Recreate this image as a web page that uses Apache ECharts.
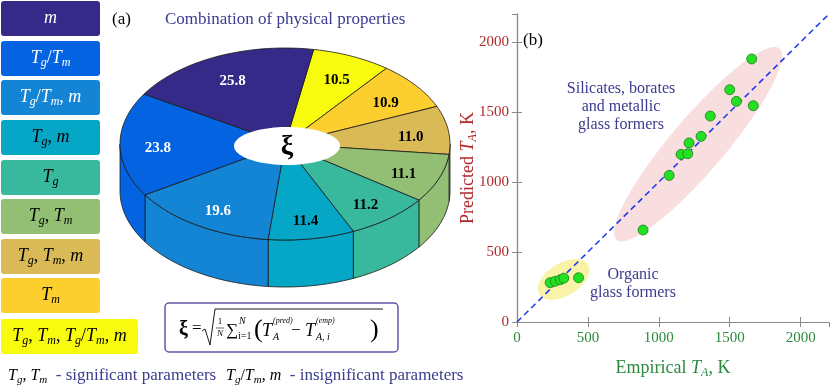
<!DOCTYPE html>
<html><head><meta charset="utf-8">
<script src="https://cdn.jsdelivr.net/npm/echarts@6/dist/echarts.min.js"></script>
<style>html,body{margin:0;padding:0;background:#fff}#c{width:830px;height:387px}</style>
</head><body><div id="c"></div>
<script>
// ---------- Panel (a): pie data (clockwise from top) ----------
const pieCats   = ['Tg,Tm,Tg/Tm,m','Tm','Tg,Tm,m','Tg,Tm','Tg','Tg,m','Tg/Tm,m','Tg/Tm','m'];
const pieValues = [10.5, 10.9, 11.0, 11.1, 11.2, 11.4, 19.6, 23.8, 25.8];
const pieColors = ['#f9fb0e','#fcce2e','#d9ba56','#92bf73','#38b99e','#06a7c6','#1485d4','#0363e1','#352a87'];
const pieLabelColors = ['#000','#000','#000','#000','#000','#000','#fff','#fff','#fff'];
// legend order, top to bottom
const legendCats = ['m','Tg/Tm','Tg/Tm,m','Tg,m','Tg','Tg,Tm','Tg,Tm,m','Tm','Tg,Tm,Tg/Tm,m'];

// ---------- Panel (b): scatter data ----------
const empiricalTA = [1655, 1500, 1547, 1666, 1363, 1298, 1213, 1157, 1204, 1073, 889, 234, 270, 305, 330, 434];
const predictedTA = [1879, 1659, 1576, 1545, 1471, 1326, 1279, 1197, 1202, 1047, 657, 281, 291, 302, 313, 316];
const diagonal = [0, 2200];
// ellipses: [centerX, centerY, semiMajor, semiMinor, angleDeg] in data units
const ellipses = [[1277, 1270, 893, 191, 50], [328, 304, 203, 115, 32]];
const ellipseColors = ['rgba(244,200,200,0.6)', 'rgba(244,236,120,0.65)'];

const SERIF = 'Liberation Serif';
const NAVY = '#3b3b8f';
const P = {cx: 285, cy: 144, rx: 165, ry: 96, h: 47, start: 10, hrx: 53, hry: 19, lr: 0.77};

function catRich(cat) {
  return cat.split(',').map(part => part.split('/').map(tok =>
    tok === 'm' ? '{i|m}' : '{i|T}{s|' + tok[1] + '}').join('{r|/}')).join('{r|, }');
}
function richStyles(size, color, tsize) {
  return {
    i: {fontFamily: SERIF, fontStyle: 'italic', fontSize: size, fill: color},
    s: {fontFamily: SERIF, fontStyle: 'italic', fontSize: Math.round(size * 0.68), fill: color, padding: [Math.round(size*0.5), 0, 0, 0]},
    r: {fontFamily: SERIF, fontSize: size, fill: color},
    t: {fontFamily: SERIF, fontSize: tsize || size, fill: NAVY}
  };
}

function ept(theta, dy) {
  const t = theta * Math.PI / 180;
  return [P.cx + P.rx * Math.sin(t), P.cy - P.ry * Math.cos(t) + (dy || 0)];
}
function arc(a1, a2, dy) {
  const n = Math.max(2, Math.ceil(Math.abs(a2 - a1) / 2));
  const pts = [];
  for (let k = 0; k <= n; k++) pts.push(ept(a1 + (a2 - a1) * k / n, dy));
  return pts;
}
const pieTotal = pieValues.reduce((a, b) => a + b, 0);

function pieRender(params, api) {
  const i = params.dataIndex;
  let before = 0;
  for (let k = 0; k < i; k++) before += pieValues[k];
  const a1 = P.start + before / pieTotal * 360;
  const a2 = a1 + api.value(0) / pieTotal * 360;
  const col = pieColors[i];
  const children = [];
  [[90, 270], [450, 630]].forEach(([lo, hi]) => {
    const s = Math.max(a1, lo), e = Math.min(a2, hi);
    if (e > s) {
      const top = arc(s, e, 0);
      const bot = arc(e, s, P.h);
      children.push({type: 'polygon', shape: {points: top.concat(bot)},
        style: {fill: col, stroke: '#1a1a1a', lineWidth: 0.8}});
    }
  });
  const pts = [[P.cx, P.cy]].concat(arc(a1, a2, 0));
  children.push({type: 'polygon', shape: {points: pts},
    style: {fill: col, stroke: '#1a1a1a', lineWidth: 0.8}});
  const mid = (a1 + a2) / 2 * Math.PI / 180;
  children.push({type: 'text', x: P.cx + P.lr * P.rx * Math.sin(mid), y: P.cy - P.lr * P.ry * Math.cos(mid) + 4,
    style: {text: api.value(0).toFixed(1), fill: pieLabelColors[i], fontFamily: SERIF, fontWeight: 'bold', fontSize: 15,
      align: 'center', verticalAlign: 'middle'}});
  return {type: 'group', children};
}

function ellipseRender(params, api) {
  const cx = api.value(0), cy = api.value(1), a = api.value(2), b = api.value(3), ang = api.value(4) * Math.PI / 180;
  const pts = [];
  for (let k = 0; k < 120; k++) {
    const t = k / 120 * 2 * Math.PI;
    const lx = a * Math.cos(t), ly = b * Math.sin(t);
    pts.push(api.coord([cx + lx * Math.cos(ang) - ly * Math.sin(ang), cy + lx * Math.sin(ang) + ly * Math.cos(ang)]));
  }
  return {type: 'polygon', shape: {points: pts}, style: {fill: ellipseColors[params.dataIndex]}};
}

// ---------- graphic elements ----------
const graphics = [];
const boxTops = [1, 41, 80, 120, 160, 199, 239, 278, 319];
legendCats.forEach((cat, k) => {
  const idx = pieCats.indexOf(cat);
  const w = k === 8 ? 137 : 99;
  graphics.push({type: 'rect', shape: {x: 1, y: boxTops[k], width: w, height: 35, r: 3}, style: {fill: pieColors[idx]}});
  graphics.push({type: 'text', x: 1 + w / 2, y: boxTops[k] + 17,
    style: {text: catRich(cat), rich: richStyles(18, k < 3 ? '#fff' : '#000'), align: 'center', verticalAlign: 'middle'}});
});
// bottom notes
graphics.push({type: 'text', x: 8, y: 376, style: {text: catRich('Tg,Tm') + '{t|  - significant parameters}', rich: richStyles(16, '#000', 17), align: 'left', verticalAlign: 'middle'}});
graphics.push({type: 'text', x: 226, y: 376, style: {text: catRich('Tg/Tm,m') + '{t|  - insignificant parameters}', rich: richStyles(16, '#000', 17), align: 'left', verticalAlign: 'middle'}});
// titles
graphics.push({type: 'text', x: 112, y: 20, style: {text: '(a)', fill: '#000', fontFamily: SERIF, fontSize: 17, align: 'left', verticalAlign: 'middle'}});
graphics.push({type: 'text', x: 165, y: 20, style: {text: 'Combination of physical properties', fill: NAVY, fontFamily: SERIF, fontSize: 17, align: 'left', verticalAlign: 'middle'}});
// hole in the pie
(function () {
  const pts = [];
  for (let k = 0; k < 90; k++) { const t = k / 90 * 2 * Math.PI; pts.push([P.cx + 2 + P.hrx * Math.cos(t), P.cy + 2 + P.hry * Math.sin(t)]); }
  graphics.push({type: 'polygon', z: 100, shape: {points: pts}, style: {fill: '#fff'}});
  graphics.push({type: 'text', z: 101, x: P.cx + 2, y: P.cy + 3, style: {text: 'ξ', fill: '#000', fontFamily: SERIF, fontWeight: 'bold', fontSize: 28, align: 'center', verticalAlign: 'middle'}});
})();
// formula box
graphics.push({type: 'rect', shape: {x: 165, y: 303, width: 233, height: 49, r: 4}, style: {fill: '#fff', stroke: '#6656a6', lineWidth: 1.5}});
const fItalic = (x, y, t, s, al) => graphics.push({type: 'text', x, y, style: {text: t, fill: '#000', fontFamily: SERIF, fontStyle: 'italic', fontSize: s, align: al || 'left', verticalAlign: 'middle'}});
const fRoman = (x, y, t, s, al) => graphics.push({type: 'text', x, y, style: {text: t, fill: '#000', fontFamily: SERIF, fontSize: s, align: al || 'left', verticalAlign: 'middle'}});
graphics.push({type: 'text', x: 179, y: 330, style: {text: 'ξ', fill: '#000', fontFamily: SERIF, fontWeight: 'bold', fontSize: 20, align: 'left', verticalAlign: 'middle'}});
fRoman(192, 329, '=', 17);
graphics.push({type: 'polyline', shape: {points: [[202, 331], [205, 329], [210, 345], [215, 309], [383, 309]]}, style: {stroke: '#000', lineWidth: 0.9, fill: null}});
fRoman(220, 322, '1', 9, 'center');
graphics.push({type: 'line', shape: {x1: 216, y1: 328, x2: 224, y2: 328}, style: {stroke: '#000', lineWidth: 0.6}});
fItalic(220, 334, 'N', 9, 'center');
fRoman(226, 331, '∑', 17);
fItalic(239, 321, 'N', 10);
fRoman(238, 336, 'i=1', 10);
graphics.push({type: 'text', x: 254, y: 330, style: {text: '(', fill: '#000', fontFamily: SERIF, fontSize: 26, align: 'left', verticalAlign: 'middle'}});
fItalic(262, 331, 'T', 18);
fItalic(273, 321, '(pred)', 8);
fItalic(273, 337, 'A', 10);
fRoman(291, 331, '−', 17);
fItalic(305, 331, 'T', 18);
fItalic(316, 321, '(emp)', 8);
fItalic(316, 337, 'A, i', 10);
graphics.push({type: 'text', x: 370, y: 330, style: {text: ')', fill: '#000', fontFamily: SERIF, fontSize: 26, align: 'left', verticalAlign: 'middle'}});
// panel (b) annotations
graphics.push({type: 'text', x: 523, y: 41, style: {text: '(b)', fill: '#000', fontFamily: SERIF, fontSize: 17, align: 'left', verticalAlign: 'middle'}});
graphics.push({type: 'text', x: 621, y: 107, style: {text: 'Silicates, borates\nand metallic\nglass formers', fill: NAVY, fontFamily: SERIF, fontSize: 16, lineHeight: 18, align: 'center', verticalAlign: 'middle'}});
graphics.push({type: 'text', x: 633, y: 284, style: {text: 'Organic\nglass formers', fill: NAVY, fontFamily: SERIF, fontSize: 16, lineHeight: 18, align: 'center', verticalAlign: 'middle'}});

const XC = '#2b8a3e', YC = '#b0282c', AX = '#8a8a8a';
const baseAxis = {
  type: 'value', min: 0, max: 2200, interval: 500,
  axisLine: {show: true, lineStyle: {color: AX, width: 1.2}},
  axisTick: {show: true, inside: true, length: 5, lineStyle: {color: AX}},
  splitLine: {show: false}
};
const plain = v => String(v);
const option = {
  animation: false,
  backgroundColor: '#fff',
  grid: {left: 517, top: 14, width: 312, height: 308, containLabel: false},
  xAxis: [
    Object.assign({}, baseAxis, {position: 'bottom',
      axisLabel: {color: XC, fontFamily: SERIF, fontSize: 15, margin: 9, showMaxLabel: false, formatter: plain},
      name: '{t|Empirical }{i|T}{s|A}{t|, K}', nameLocation: 'middle', nameGap: 36, nameMoveOverlap: false,
      nameTextStyle: {rich: {
        t: {color: XC, fontFamily: SERIF, fontSize: 18},
        i: {color: XC, fontFamily: SERIF, fontStyle: 'italic', fontSize: 18},
        s: {color: XC, fontFamily: SERIF, fontStyle: 'italic', fontSize: 12, padding: [9, 0, 0, 0]}}}}),
    Object.assign({}, baseAxis, {position: 'top', axisLabel: {show: false}})
  ],
  yAxis: [
    Object.assign({}, baseAxis, {position: 'left',
      axisLabel: {color: YC, fontFamily: SERIF, fontSize: 15, margin: 8, showMaxLabel: false, formatter: plain},
      name: '{t|Predicted }{i|T}{s|A}{t|, K}', nameLocation: 'middle', nameGap: 38, nameMoveOverlap: false,
      nameTextStyle: {rich: {
        t: {color: YC, fontFamily: SERIF, fontSize: 18},
        i: {color: YC, fontFamily: SERIF, fontStyle: 'italic', fontSize: 18},
        s: {color: YC, fontFamily: SERIF, fontStyle: 'italic', fontSize: 12, padding: [9, 0, 0, 0]}}}}),
    Object.assign({}, baseAxis, {position: 'right', axisLabel: {show: false}})
  ],
  graphic: {elements: graphics},
  series: [
    {type: 'custom', coordinateSystem: 'none', renderItem: pieRender, data: pieValues.map(v => [v]), silent: true, z: 2},
    {type: 'custom', xAxisIndex: 0, yAxisIndex: 0, renderItem: ellipseRender, data: ellipses, silent: true, z: 1},
    {type: 'line', xAxisIndex: 0, yAxisIndex: 0, data: diagonal.map(v => [v, v]), symbol: 'none',
      lineStyle: {color: '#1f3cf0', width: 1.6, type: [6, 4]}, silent: true, z: 3},
    {type: 'scatter', xAxisIndex: 0, yAxisIndex: 0, data: empiricalTA.map((x, i) => [x, predictedTA[i]]),
      symbolSize: 10, itemStyle: {color: '#22e022', borderColor: '#1f7a1f', borderWidth: 0.8, opacity: 1}, z: 4}
  ]
};
const chart = echarts.init(document.getElementById('c'), null, {renderer: 'canvas'});
chart.setOption(option);
</script></body></html>
